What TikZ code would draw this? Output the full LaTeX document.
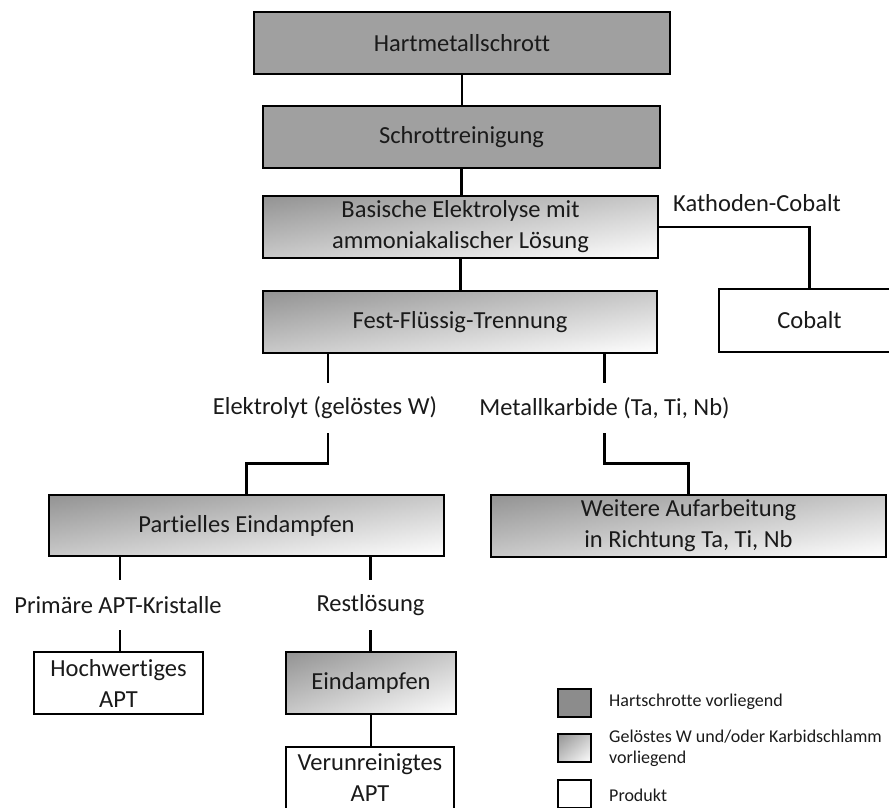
\documentclass[tikz,border=0pt]{standalone}
\usepackage{fontspec}
\setmainfont[Ligatures=NoCommon]{Carlito}
\usetikzlibrary{calc}
\definecolor{scrapgray}{HTML}{A0A0A0}
\definecolor{keygray}{HTML}{8C8C8C}
\definecolor{gradgray}{HTML}{939393}
\definecolor{inkcol}{HTML}{1A1A1A}
\tikzset{
  % diagonal gradient: half horizontal, half vertical
  diaggrad/.style={path picture={
    \shade[left color=gradgray, right color=white]
      (path picture bounding box.south west) rectangle (path picture bounding box.north east);
    \shade[top color=gradgray, bottom color=white, fill opacity=0.5]
      (path picture bounding box.south west) rectangle (path picture bounding box.north east);
  }},
  base/.style={draw=black, line width=2.3pt, text=inkcol, font=\fontsize{24.5}{31}\selectfont,
    align=center, inner sep=0pt, minimum height=62pt},
  scrapbox/.style={base, fill=scrapgray},
  solbox/.style={base, diaggrad},
  prodbox/.style={base, fill=white},
  flowlabel/.style={text=inkcol, font=\fontsize{24.5}{28}\selectfont, inner sep=0pt, minimum height=50pt},
  link/.style={draw=black, line width=2.6pt},
  legkey/.style={draw=black, line width=1.8pt, minimum width=33pt, minimum height=28pt, inner sep=0pt},
  legtext/.style={text=inkcol, font=\fontsize{18}{21}\selectfont, anchor=west, align=left, inner sep=0pt}
}
\begin{document}
\begin{tikzpicture}[x=1pt, y=-1pt]
\useasboundingbox (0,0) rectangle (889,808);

% process chain
\node[scrapbox, minimum width=416pt] (hms) at (462,43) {Hartmetallschrott};
\node[scrapbox, minimum width=397pt] (sr) at (461.5,137) {Schrottreinigung};
\node[solbox, minimum width=395pt] (bel) at (460.5,227) {Basische Elektrolyse mit\\ammoniakalischer Lösung};
\node[solbox, minimum width=394pt] (ffs) at (460,322) {Fest-Flüssig-Trennung};
\node[prodbox, minimum width=181pt, minimum height=63pt] (cob) at (809.5,320.5) {Cobalt};
\node[text=inkcol, font=\fontsize{24.5}{28}\selectfont, inner sep=0pt] (kc) at (757,203) {Kathoden-Cobalt};

% separation products
\node[flowlabel] (el) at (325,408) {Elektrolyt (gelöstes W)};
\node[flowlabel] (mk) at (604.5,408) {Metallkarbide (Ta, Ti, Nb)};
\node[solbox, minimum width=395pt, minimum height=61pt] (pe) at (246.5,525.5) {Partielles Eindampfen};
\node[solbox, minimum width=395pt] (wa) at (688.5,526) {Weitere Aufarbeitung\\in Richtung Ta, Ti, Nb};

\node[flowlabel] (pak) at (118,605) {Primäre APT-Kristalle};
\node[flowlabel] (rl) at (370.5,605) {Restlösung};
\node[prodbox, minimum width=169pt] (hw) at (118.5,683) {Hochwertiges\\APT};
\node[solbox, minimum width=170pt] (ed) at (371,683) {Eindampfen};
\node[prodbox, minimum width=168pt] (va) at (370,778) {Verunreinigtes\\APT};

% connectors
\draw[link] (hms.south) -- (hms.south |- sr.north);
\draw[link] (sr.south) -- (sr.south |- bel.north);
\draw[link] (bel.south) -- (bel.south |- ffs.north);
\draw[link] (bel.east) -| (cob.north);
\draw[link] (ffs.south -| el.north) ++(3,0) -- ($(el.north)+(3,0)$);
\draw[link] (ffs.south -| mk.north) -- (mk.north);
\coordinate (elmid) at ($(el.south)!0.5!(pe.north)$);
\coordinate (mkmid) at ($(mk.south)!0.5!(wa.north)$);
\draw[link] ($(el.south)+(3,0)$) |- ($(elmid)+(3,0)$) -| (pe.north);
\draw[link] (mk.south) |- (mkmid) -| (wa.north);
\draw[link] (pe.south -| pak.north) ++(2,0) -- ($(pak.north)+(2,0)$);
\draw[link] ($(pak.south)+(2,0)$) -- ($(pak.south |- hw.north)+(2,0)$);
\draw[link] (pe.south -| rl.north) -- (rl.north);
\draw[link] (rl.south) -- (rl.south |- ed.north);
\draw[link] (ed.south) -- (ed.south |- va.north);

% legend
\node[legkey, fill=keygray] (k1) at (574.5,703) {};
\node[legkey, diaggrad] (k2) at (574.5,748) {};
\node[legkey, fill=white] (k3) at (574.5,794) {};
\node[legtext] (t1) at (609,702) {Hartschrotte vorliegend};
\node[legtext] (t2) at (609,748) {Gelöstes W und/oder Karbidschlamm\\vorliegend};
\node[legtext] (t3) at (609,795) {Produkt};
\end{tikzpicture}
\end{document}
